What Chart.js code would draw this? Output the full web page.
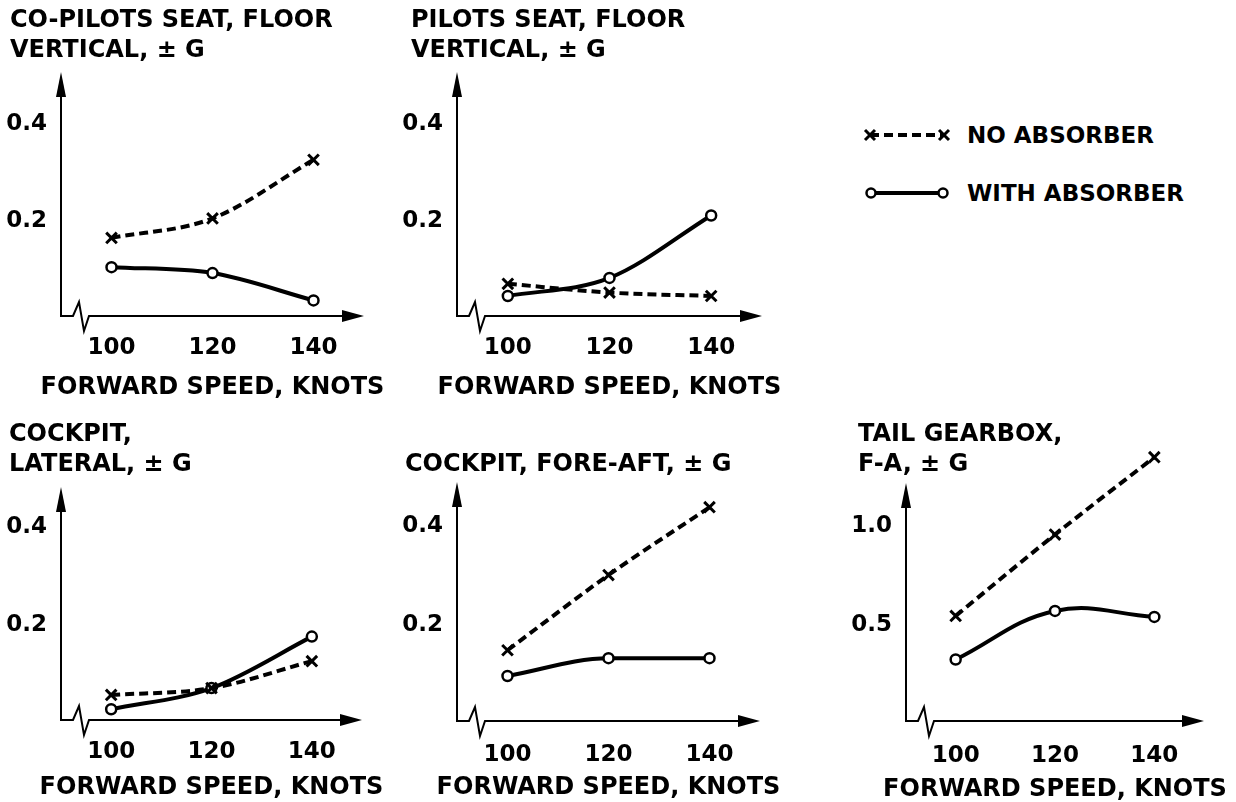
<!DOCTYPE html>
<html>
<head>
<meta charset="utf-8">
<script src="https://cdn.jsdelivr.net/npm/chart.js@4.4.0/dist/chart.umd.min.js"></script>
<style>
  body { margin: 0; background: #fff; }
  #page { position: relative; width: 1236px; height: 802px; overflow: hidden; }
  .panel { position: absolute; }
  .legend-text { position: absolute; left: 967px; font: bold 23px "DejaVu Sans"; line-height: 28px; color: #000; white-space: nowrap; }
  #legendMarks { position: absolute; left: 860px; top: 115px; }
</style>
</head>
<body>
<div id="page">
  <svg id="legendMarks" width="100" height="100">
    <line x1="10" y1="20" x2="84" y2="20" stroke="#000" stroke-width="4" stroke-dasharray="9 5"/>
    <path d="M5 15 L15 25 M15 15 L5 25 M79 15 L89 25 M89 15 L79 25" stroke="#000" stroke-width="3"/>
    <line x1="10" y1="78" x2="84" y2="78" stroke="#000" stroke-width="4"/>
    <circle cx="11" cy="78" r="4.5" fill="#fff" stroke="#000" stroke-width="2.5"/>
    <circle cx="83" cy="78" r="4.5" fill="#fff" stroke="#000" stroke-width="2.5"/>
  </svg>
  <div class="legend-text" style="top:121px">NO ABSORBER</div>
  <div class="legend-text" style="top:179px">WITH ABSORBER</div>
</div>
<script>
// 공통 x축 (전진 속도, 노트)
const speeds = [100, 120, 140];
const speedTicks = [100, 120, 140];
const gTicks = [0.2, 0.4];
const gTicksTail = [0.5, 1.0];

// 패널별 값
const coPilotNo = [0.16, 0.20, 0.32];
const coPilotWith = [0.10, 0.088, 0.032];
const pilotNo = [0.066, 0.048, 0.041];
const pilotWith = [0.041, 0.078, 0.206];
const lateralNo = [0.051, 0.065, 0.12];
const lateralWith = [0.022, 0.065, 0.17];
const foreAftNo = [0.143, 0.295, 0.432];
const foreAftWith = [0.091, 0.127, 0.127];
const tailNo = [0.53, 0.94, 1.33];
const tailWith = [0.31, 0.555, 0.525];

const seriesNames = ['NO ABSORBER', 'WITH ABSORBER'];
const xTitle = 'FORWARD SPEED, KNOTS';
const titleCoPilot = ['CO-PILOTS SEAT, FLOOR', 'VERTICAL, \u00B1 G'];
const titlePilot = ['PILOTS SEAT, FLOOR', 'VERTICAL, \u00B1 G'];
const titleLateral = ['COCKPIT,', 'LATERAL, \u00B1 G'];
const titleForeAft = ['COCKPIT, FORE-AFT, \u00B1 G'];
const titleTail = ['TAIL GEARBOX,', 'F-A, \u00B1 G'];

const FONT = 'DejaVu Sans';
const TITLE_FONT = 'bold 24px "DejaVu Sans"';
const TITLE_LH = 30;
const PAD_L = 12; // y축 눈금 글자가 잘리지 않도록 캔버스 왼쪽 여유

// 화살표 축 + 축 끊김 표시 + 제목들
const arrowAxes = {
    id: 'arrowAxes',
    beforeDatasetsDraw(chart, args, opts) {
        const ctx = chart.ctx;
        const a = chart.chartArea;
        const x0 = a.left;
        const y0 = a.bottom;
        const yTop = chart.scales.y.getPixelForValue(opts.yArrow);
        ctx.save();
        ctx.strokeStyle = '#000';
        ctx.fillStyle = '#000';
        ctx.lineWidth = 2;
        // y축
        ctx.beginPath();
        ctx.moveTo(x0, y0 + 1);
        ctx.lineTo(x0, yTop + 20);
        ctx.stroke();
        ctx.beginPath();
        ctx.moveTo(x0, yTop);
        ctx.lineTo(x0 - 5, yTop + 25);
        ctx.lineTo(x0 + 5, yTop + 25);
        ctx.closePath();
        ctx.fill();
        // x축 (끊김 포함)
        ctx.beginPath();
        ctx.moveTo(x0, y0);
        ctx.lineTo(x0 + 12, y0);
        ctx.lineTo(x0 + 18, y0 - 14);
        ctx.lineTo(x0 + 23, y0 + 15);
        ctx.lineTo(x0 + 28, y0);
        ctx.lineTo(a.right - 18, y0);
        ctx.stroke();
        ctx.beginPath();
        ctx.moveTo(a.right, y0);
        ctx.lineTo(a.right - 22, y0 - 6);
        ctx.lineTo(a.right - 22, y0 + 6);
        ctx.closePath();
        ctx.fill();
        ctx.restore();
    },
    afterDraw(chart, args, opts) {
        const ctx = chart.ctx;
        const a = chart.chartArea;
        ctx.save();
        ctx.fillStyle = '#000';
        ctx.font = TITLE_FONT;
        ctx.textBaseline = 'middle';
        // 패널 제목 (왼쪽 정렬)
        ctx.textAlign = 'left';
        opts.title.forEach((line, i) => {
            ctx.fillText(line, opts.titleX, opts.titleY + i * TITLE_LH);
        });
        // x축 제목
        ctx.textAlign = 'center';
        ctx.fillText(opts.xText, (a.left + a.right) / 2, opts.xTitleY);
        ctx.restore();
    }
};

// 위치: area = [왼쪽, 화살표 끝, 오른쪽, 바닥] (페이지 좌표)
const panels = [
    { x: 10, y: 0, w: 400, h: 400, area: [61, 72, 364, 316], yArrow: 0.5, yMax: 0.5, yTicks: gTicks,
      title: titleCoPilot, titleX: 10, titleY: 21, tickPad: 18, xTitleY: 388,
      no: coPilotNo, withA: coPilotWith, withMode: 'monotone' },
    { x: 405, y: 0, w: 400, h: 400, area: [457, 72, 762, 316], yArrow: 0.5, yMax: 0.5, yTicks: gTicks,
      title: titlePilot, titleX: 411, titleY: 21, tickPad: 18, xTitleY: 388,
      no: pilotNo, withA: pilotWith, withMode: 'monotone' },
    { x: 9, y: 400, w: 400, h: 402, area: [61, 487, 362, 720], yArrow: 0.475, yMax: 0.475, yTicks: gTicks,
      title: titleLateral, titleX: 9, titleY: 435, tickPad: 18, xTitleY: 788,
      no: lateralNo, withA: lateralWith, withMode: 'monotone' },
    { x: 405, y: 400, w: 400, h: 402, area: [457, 482, 760, 721], yArrow: 0.483, yMax: 0.483, yTicks: gTicks,
      title: titleForeAft, titleX: 405, titleY: 465, tickPad: 20, xTitleY: 788,
      no: foreAftNo, withA: foreAftWith, withMode: 'monotone' },
    { x: 857, y: 400, w: 379, h: 402, area: [906, 483, 1204, 721], yArrow: 1.2, yMax: 1.36, yTicks: gTicksTail,
      title: titleTail, titleX: 858, titleY: 435, tickPad: 21, xTitleY: 790,
      no: tailNo, withA: tailWith, withMode: 'default' }
];

function makePanel(p) {
    const left = p.x - PAD_L;
    const canvas = document.createElement('canvas');
    canvas.width = p.w + PAD_L;
    canvas.height = p.h;
    canvas.className = 'panel';
    canvas.style.left = left + 'px';
    canvas.style.top = p.y + 'px';
    document.getElementById('page').appendChild(canvas);

    const [al, arrowTop, ar, ab] = p.area;
    // 데이터가 화살표 위로 넘어가는 경우 차트 영역을 위로 늘림
    const areaTop = ab - (ab - arrowTop) * p.yMax / p.yArrow;

    new Chart(canvas, {
        type: 'line',
        data: {
            datasets: [
                {
                    label: seriesNames[0],
                    data: speeds.map((s, i) => ({ x: s, y: p.no[i] })),
                    borderColor: '#000',
                    borderWidth: 4,
                    borderDash: [9, 5],
                    pointStyle: 'crossRot',
                    pointRadius: 7.5,
                    pointBorderWidth: 3,
                    pointBorderColor: '#000',
                    cubicInterpolationMode: 'monotone',
                    clip: false
                },
                {
                    label: seriesNames[1],
                    data: speeds.map((s, i) => ({ x: s, y: p.withA[i] })),
                    borderColor: '#000',
                    borderWidth: 4,
                    pointStyle: 'circle',
                    pointRadius: 5,
                    pointBackgroundColor: '#fff',
                    pointBorderColor: '#000',
                    pointBorderWidth: 2.5,
                    tension: 0.4,
                    cubicInterpolationMode: p.withMode,
                    clip: false
                }
            ]
        },
        options: {
            responsive: false,
            animation: false,
            layout: { padding: { left: 0, top: areaTop - p.y, right: p.x + p.w - ar, bottom: 0 } },
            plugins: {
                legend: { display: false },
                tooltip: { enabled: false },
                arrowAxes: {
                    yArrow: p.yArrow,
                    title: p.title,
                    titleX: p.titleX - left,
                    titleY: p.titleY - p.y,
                    xText: xTitle,
                    xTitleY: p.xTitleY - p.y
                }
            },
            scales: {
                x: {
                    type: 'linear',
                    min: 90,
                    max: 150,
                    afterBuildTicks: s => { s.ticks = speedTicks.map(v => ({ value: v })); },
                    afterFit: s => { s.height = p.y + p.h - ab; },
                    grid: { display: false, drawTicks: false },
                    border: { display: false },
                    ticks: {
                        color: '#000',
                        font: { family: FONT, weight: 'bold', size: 23 },
                        padding: p.tickPad,
                        maxRotation: 0,
                        autoSkip: false,
                        callback: v => String(v)
                    }
                },
                y: {
                    type: 'linear',
                    min: 0,
                    max: p.yMax,
                    afterBuildTicks: s => { s.ticks = p.yTicks.map(v => ({ value: v })); },
                    afterFit: s => { s.width = al - left; },
                    grid: { display: false, drawTicks: false },
                    border: { display: false },
                    ticks: {
                        color: '#000',
                        font: { family: FONT, weight: 'bold', size: 23 },
                        padding: 14,
                        labelOffset: 3,
                        callback: v => v.toFixed(1)
                    }
                }
            }
        },
        plugins: [arrowAxes]
    });
}

document.addEventListener('DOMContentLoaded', () => {
    panels.forEach(makePanel);
});
</script>
</body>
</html>
